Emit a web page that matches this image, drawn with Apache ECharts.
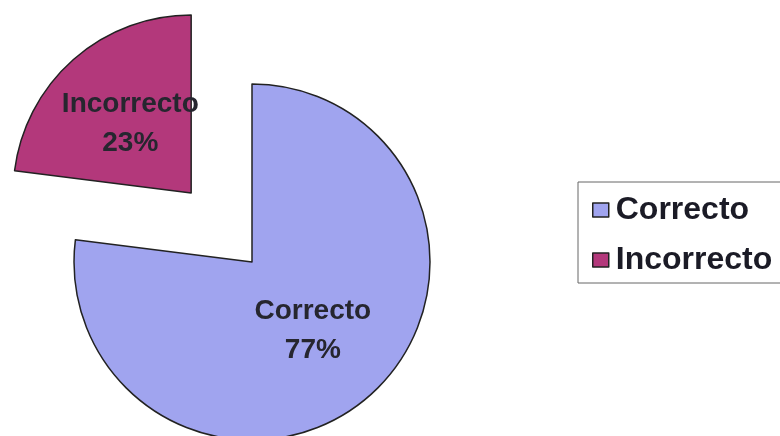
<!DOCTYPE html>
<html>
<head>
<meta charset="utf-8">
<script src="https://cdn.jsdelivr.net/npm/echarts@6/dist/echarts.min.js"></script>
<style>
html,body{margin:0;padding:0;background:#fff;}
#c{width:780px;height:436px;}
</style>
</head>
<body>
<div id="c"></div>
<script>
const categories = ["Correcto", "Incorrecto"];
const values = [77, 23];
const colors = ["#a0a4ef", "#b3387b"];
const explodedCategory = "Incorrecto";

const chart = echarts.init(document.getElementById('c'), null, {renderer: 'canvas'});
chart.setOption({
  backgroundColor: '#ffffff',
  animation: false,
  legend: {
    orient: 'vertical',
    left: 578,
    top: 182,
    data: categories,
    icon: 'rect',
    itemWidth: 16,
    itemHeight: 14,
    itemGap: 14,
    padding: [10, 14, 5, 14],
    borderColor: '#666',
    borderWidth: 1,
    borderRadius: 0,
    itemStyle: { borderColor: '#222', borderWidth: 1.5 },
    textStyle: {
      fontFamily: 'Liberation Sans, Arial, sans-serif',
      fontWeight: 'bold',
      fontSize: 32,
      lineHeight: 36,
      color: '#1b1b26',
      padding: [0, 0, 0, 2]
    }
  },
  series: [{
    type: 'pie',
    center: [252, 262],
    radius: 178,
    startAngle: 90,
    clockwise: true,
    selectedMode: 'multiple',
    selectedOffset: 92,
    emphasis: { disabled: true },
    itemStyle: { borderColor: '#222', borderWidth: 1.5 },
    label: {
      show: true,
      position: 'inside',
      formatter: '{b}\n{d}%',
      fontFamily: 'Liberation Sans, Arial, sans-serif',
      fontWeight: 'bold',
      fontSize: 28,
      lineHeight: 39,
      color: '#26262f'
    },
    labelLine: { show: false },
    data: categories.map((c, i) => ({
      name: c,
      value: values[i],
      selected: c === explodedCategory,
      itemStyle: { color: colors[i] }
    }))
  }]
});
</script>
</body>
</html>
